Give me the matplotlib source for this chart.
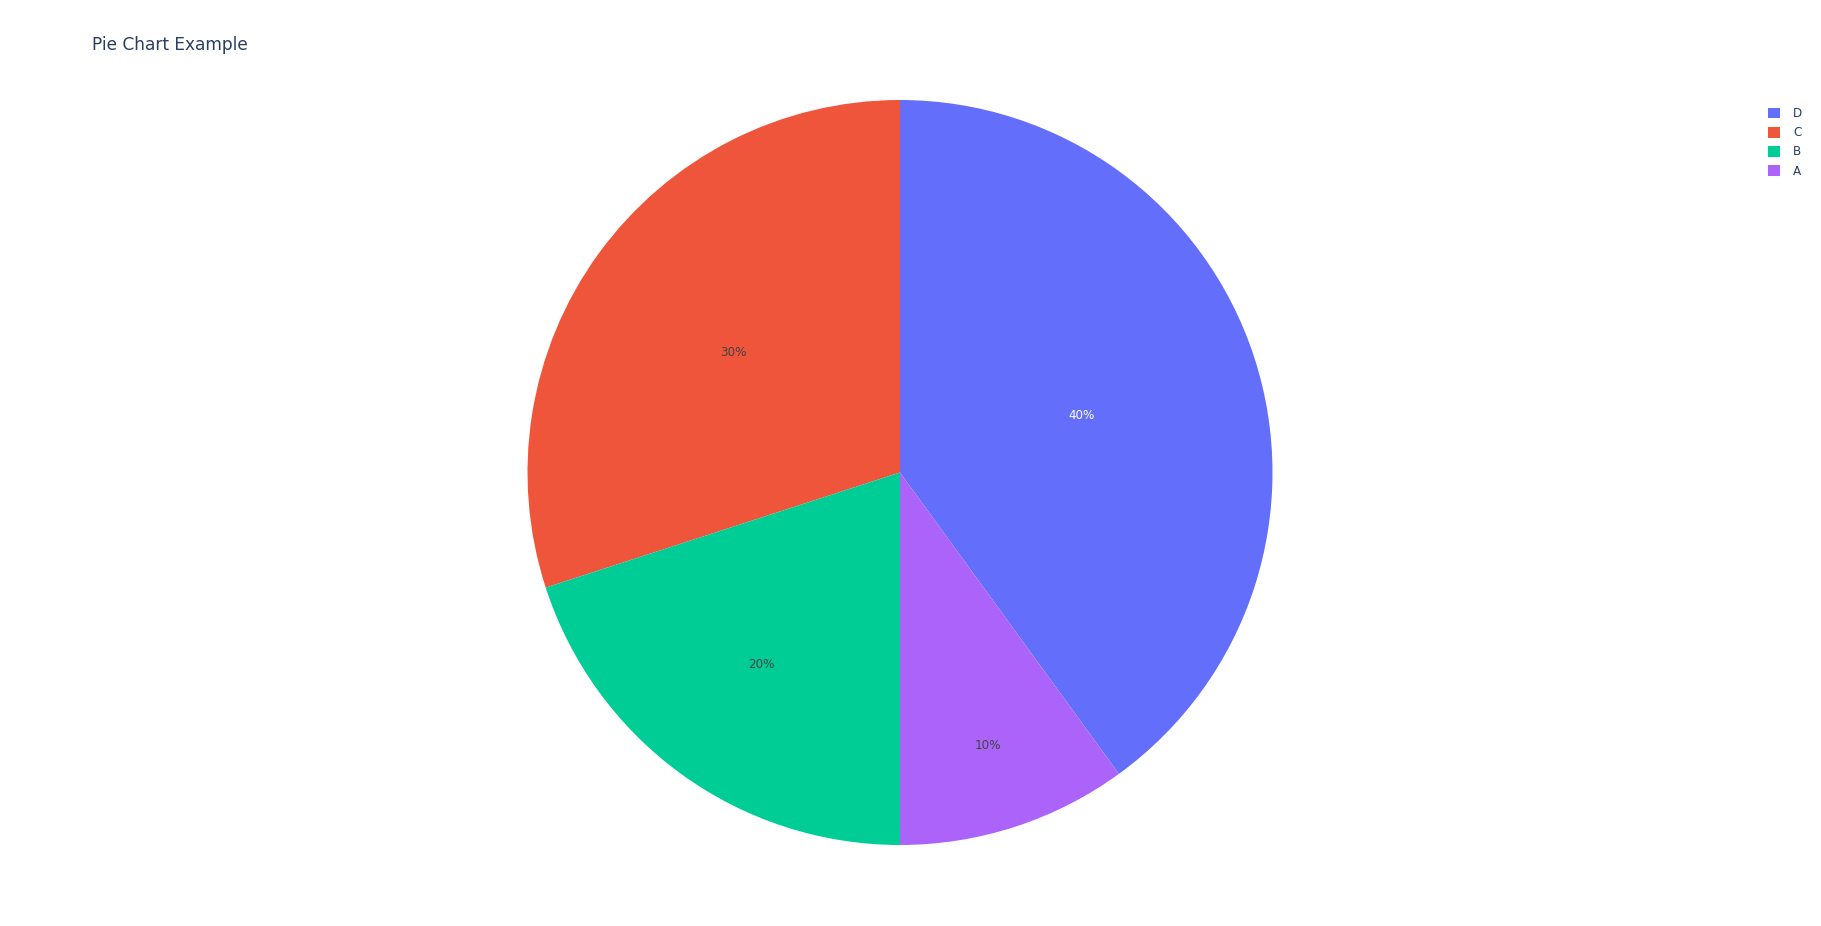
import numpy as np
import matplotlib
matplotlib.use("Agg")
import matplotlib.pyplot as plt
from matplotlib.patches import Patch

labels = ["D", "C", "B", "A"]
values = [40, 30, 20, 10]
colors = ["#636efa", "#EF553B", "#00cc96", "#ab63fa"]
text_colors = ["#ffffff", "#444444", "#444444", "#444444"]
label_radius = [0.512, 0.553, 0.632, 0.766]
title = "Pie Chart Example"

W, H = 1821, 926
fig = plt.figure(figsize=(W / 100, H / 100), dpi=100)
plt.rcParams["font.family"] = ["DejaVu Sans"]

cx, cy, R = 900, 472.5, 372.5
ax = fig.add_axes([(cx - R) / W, (H - cy - R) / H, 2 * R / W, 2 * R / H])
start = 90 - 360 * values[0] / sum(values)
wedges, _ = ax.pie(values, colors=colors, startangle=start, counterclock=True,
                   radius=1, wedgeprops=dict(linewidth=0))
ax.set_xlim(-1, 1)
ax.set_ylim(-1, 1)
ax.set_aspect("equal")
ax.axis("off")

total = sum(values)
cum = start
dy = -1.5 / R
for v, tc, r in zip(values, text_colors, label_radius):
    mid = np.deg2rad(cum + 180 * v / total)
    ax.text(r * np.cos(mid), r * np.sin(mid) + dy, f"{round(100 * v / total)}%",
            ha="center", va="center", fontsize=8.64, color=tc)
    cum += 360 * v / total

fig.text(92 / W, 1 - 45 / H, title, ha="left", va="center", fontsize=12.24, color="#2a3f5f")

handles = [Patch(facecolor=c, edgecolor="none") for c in colors]
fig.legend(handles, labels, loc="upper left", bbox_to_anchor=(1768 / W, 1 - 107 / H),
           frameon=False, fontsize=8.64, handlelength=1.0, handleheight=1.0,
           handletextpad=1.1, labelspacing=0.52, borderpad=0, borderaxespad=0,
           labelcolor="#2a3f5f")

fig.savefig("out.png", dpi=100)
